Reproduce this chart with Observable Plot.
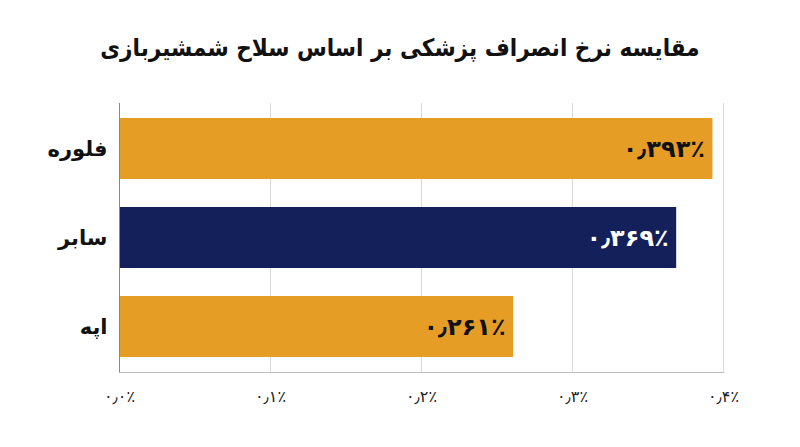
<!DOCTYPE html>
<html>
<head>
<meta charset="utf-8">
<script src="https://cdn.jsdelivr.net/npm/d3@7"></script>
<script src="https://cdn.jsdelivr.net/npm/@observablehq/plot@0.6"></script>
<style>
  html, body { margin: 0; padding: 0; background: #fff; }
  #title {
    height: 90px; box-sizing: border-box; padding-top: 33px;
    text-align: center; font-family: "DejaVu Sans Condensed", "DejaVu Sans", sans-serif;
    font-size: 24px; font-weight: bold; color: #111; direction: rtl;
    line-height: 30px;
  }
  svg { display: block; }
</style>
</head>
<body>
<div id="title">مقایسه نرخ انصراف پزشکی بر اساس سلاح شمشیربازی</div>
<div id="chart"></div>
<script>
const weapons = ["فلوره", "سابر", "اپه"];
const rates = [0.393, 0.369, 0.261];
const highlighted = "سابر";
const xTicks = [0, 0.1, 0.2, 0.3, 0.4];

const faDigits = "۰۱۲۳۴۵۶۷۸۹";
function toFa(s) {
  return s.replace(/[0-9]/g, d => faDigits[+d]).replace(/\./g, "٫");
}
const data = weapons.map((w, i) => ({weapon: w, rate: rates[i], hi: w === highlighted ? "hi" : "lo"}));

const chart = Plot.plot({
  width: 800,
  height: 357,
  marginLeft: 119,
  marginRight: 77,
  marginTop: 13,
  marginBottom: 75,
  style: {fontFamily: "DejaVu Sans, sans-serif", background: "#fff"},
  x: {domain: [0, 0.4]},
  y: {domain: weapons, paddingInner: 0.32, paddingOuter: 0.155},
  color: {domain: ["lo", "hi"], range: ["#E59D25", "#13205A"]},
  marks: [
    Plot.gridX(xTicks.slice(1), {stroke: "#d9d9d9", strokeOpacity: 1, strokeWidth: 1}),
    Plot.barX(data, {y: "weapon", x: "rate", fill: "hi"}),
    Plot.frame({anchor: "bottom", stroke: "#bbb"}),
    Plot.ruleX([0], {stroke: "#888", strokeWidth: 1}),
    Plot.text(data, {
      y: "weapon", x: "rate", text: d => toFa(d.rate.toFixed(3)) + "٪",
      textAnchor: "end", dx: -8, fontSize: 24, fontWeight: "bold",
      fill: d => d.hi === "hi" ? "#ffffff" : "#111111"
    }),
    Plot.axisY({tickSize: 0, tickPadding: 12, fontSize: 21, fontWeight: "bold", fill: "#111", label: null}),
    Plot.axisX({ticks: xTicks, tickSize: 0, tickPadding: 18, fontSize: 16, fontWeight: "normal", fill: "#222",
      tickFormat: d => toFa(d.toFixed(1)) + "٪", label: null})
  ]
});
document.getElementById("chart").appendChild(chart);
</script>
</body>
</html>
